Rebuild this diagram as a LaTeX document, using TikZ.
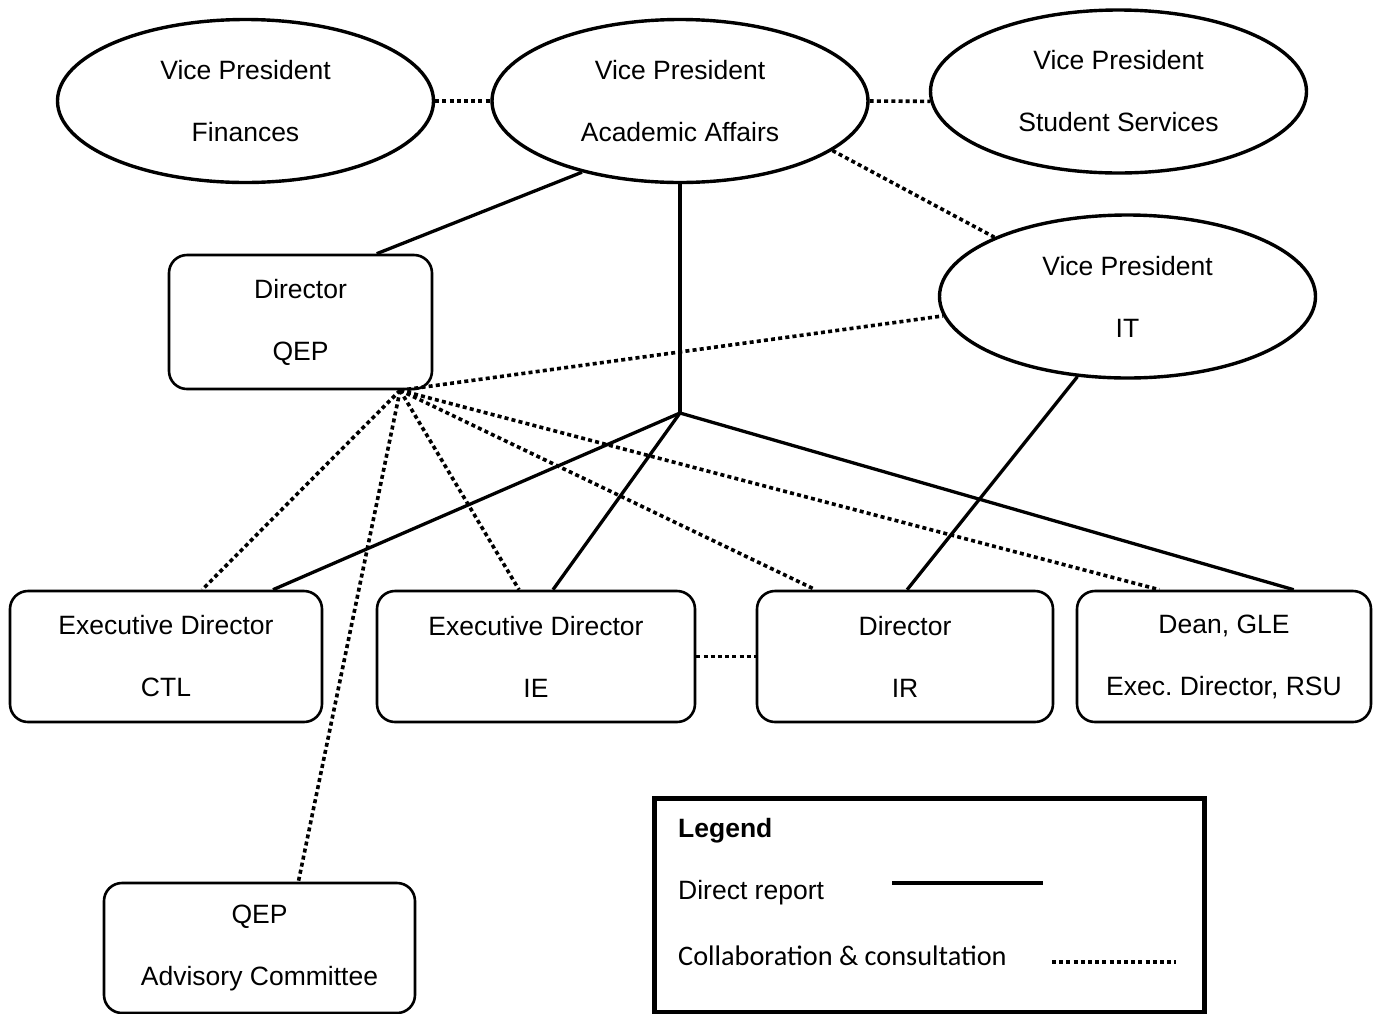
\documentclass[tikz,border=0pt]{standalone}
\usepackage{fontspec}
\setmainfont{Liberation Sans}
\newfontfamily\legendfont{Carlito}
\usetikzlibrary{shapes.geometric,calc}
\begin{document}
\begin{tikzpicture}[x=1pt,y=-1pt,
  vp/.style={ellipse,draw,line width=3.4pt,inner sep=0pt,
    minimum width=376pt,minimum height=163pt,align=center,
    font=\fontsize{26.5}{62}\selectfont},
  unit/.style={rectangle,draw,rounded corners=18pt,line width=2.6pt,
    inner sep=0pt,minimum height=131pt,align=center,
    font=\fontsize{26.5}{62}\selectfont},
  report/.style={line width=3.3pt},
  collab/.style={line width=3.6pt,dash pattern=on 4pt off 3.2pt},
  legtext/.style={anchor=base west,inner sep=0pt,font=\fontsize{26.5}{30}\selectfont},
]
\useasboundingbox (0,0) rectangle (1377,1013);

% vice presidents
\node[vp] (fin)  at (245.5,101) {Vice President\\Finances};
\node[vp] (vpaa) at (680,101)   {Vice President\\Academic Affairs};
\node[vp] (vpss) at (1118.5,91.5) {Vice President\\Student Services};
\node[vp] (vpit) at (1127.5,296.5) {Vice President\\IT};

% directors and units
\node[unit,minimum width=263pt,minimum height=134pt] (qep) at (300.5,322) {Director\\QEP};
\node[unit,minimum width=312pt] (ctl)  at (166,656.5)  {Executive Director\\CTL};
\node[unit,minimum width=318pt] (ie)   at (536,656.5)  {Executive Director\\IE};
\node[unit,minimum width=296pt] (ir)   at (905,656.5)  {Director\\IR};
\node[unit,minimum width=294pt] (dean) at (1224,656.5) {Dean, GLE\\Exec.\ Director, RSU};
\node[unit,minimum width=311pt,minimum height=130pt] (adv) at (259.5,948) {QEP\\Advisory Committee};

% reporting lines
\coordinate (j) at (680,413);
\draw[report] (vpaa.216.8) -- ($(qep.north west)!0.787!(qep.north east)$);
\draw[report] (vpaa.south) -- (j);
\draw[report] (j) -- ($(ctl.north west)!0.84!(ctl.north east)$);
\draw[report] (j) -- ($(ie.north west)!0.553!(ie.north east)$);
\draw[report] (j) -- ($(dean.north west)!0.735!(dean.north east)$);
\draw[report] (vpit.238.2) -- ($(ir.north west)!0.507!(ir.north east)$);

% collaboration lines
\coordinate (hub) at ($(qep.south west)!0.875!(qep.south east)$);
\draw[collab] (fin.east) -- (vpaa.west);
\draw[collab] (vpaa.east) -- (vpss.183.5);
\draw[collab] (vpaa.342.6) -- (vpit.156.95);
\draw[collab] (hub) -- (vpit.186.5);
\draw[collab] (hub) -- ($(ctl.north west)!0.615!(ctl.north east)$);
\draw[collab] (hub) -- ($(ie.north west)!0.447!(ie.north east)$);
\draw[collab] (hub) -- ($(ir.north west)!0.2!(ir.north east)$);
\draw[collab] (hub) -- ($(dean.north west)!0.282!(dean.north east)$);
\draw[collab] (hub) -- ($(adv.north west)!0.624!(adv.north east)$);
\draw[collab] (ie.east) -- (ir.west);

% legend
\node[draw,line width=5pt,inner sep=0pt,minimum width=550pt,minimum height=214pt] (legend) at (929,905) {};
\node[legtext,font=\bfseries\fontsize{26.5}{30}\selectfont] (legtitle) at (678,837) {Legend};
\node[legtext] (legreport) at (678,899) {Direct report};
\node[legtext,font=\legendfont\fontsize{28.3}{32}\selectfont] (legcollab) at (678,965) {Collaboration \& consultation};
\coordinate (rs) at (892,883);
\coordinate (re) at (1043,883);
\coordinate (cs) at (1052,962);
\coordinate (ce) at (1176,962);
\draw[report] (rs) -- (re);
\draw[collab] (cs) -- (ce);
\end{tikzpicture}
\end{document}
